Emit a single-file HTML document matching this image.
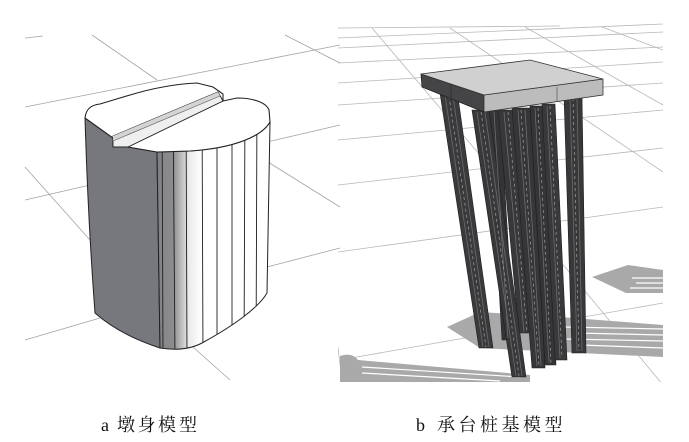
<!DOCTYPE html>
<html><head><meta charset="utf-8"><style>
html,body{margin:0;padding:0;background:#fff;}
body{width:689px;height:442px;overflow:hidden;}
svg{display:block;}
</style></head><body>
<svg width="689" height="442" viewBox="0 0 689 442" xmlns="http://www.w3.org/2000/svg">
<defs>
<linearGradient id="fg" gradientUnits="userSpaceOnUse" x1="157" y1="0" x2="270" y2="0">
<stop offset="0" stop-color="#7a7c81"/>
<stop offset="0.045" stop-color="#86878a"/>
<stop offset="0.144" stop-color="#8c8c8e"/>
<stop offset="0.28" stop-color="#eaeaea"/>
<stop offset="0.39" stop-color="#ffffff"/>
<stop offset="1" stop-color="#ffffff"/>
</linearGradient>
<clipPath id="ff"><path d="M157,152 L190,151 C235,148 262,136 270,122 L267,293 C259,307 235,325 202,343 Q185,352 160,348 Z"/></clipPath>
<clipPath id="rp"><rect x="338" y="20" width="325" height="362"/></clipPath>
</defs>

<!-- LEFT PANEL grid -->
<g stroke="#a3a3a3" stroke-width="0.8" fill="none">
<line x1="25" y1="38" x2="43" y2="36"/>
<line x1="92" y1="35" x2="157" y2="80"/>
<line x1="25" y1="107" x2="340" y2="45"/>
<line x1="285" y1="35" x2="340" y2="63"/>
<line x1="267" y1="142" x2="340" y2="125"/>
<line x1="268" y1="162" x2="340" y2="207"/>
<line x1="25" y1="200" x2="90" y2="185"/>
<line x1="25" y1="167" x2="90" y2="240"/>
<line x1="267" y1="267" x2="340" y2="248"/>
<line x1="25" y1="340" x2="100" y2="318"/>
<line x1="193" y1="347" x2="230" y2="380"/>
</g>

<!-- Pier -->
<path d="M85,118 L113,138 L113,147 L128,147 L157,152 L160,348 Q120,335 95,313 Q88,220 85,118 Z" fill="#76787d" stroke="#222" stroke-width="1"/>
<path d="M157,152 L190,151 C235,148 262,136 270,122 L267,293 C259,307 235,325 202,343 Q185,352 160,348 Z" fill="url(#fg)" stroke="#222" stroke-width="1"/>
<g clip-path="url(#ff)" stroke="#1e1e1e" stroke-width="0.9">
<line x1="162" y1="100" x2="163" y2="360"/>
<line x1="173" y1="100" x2="175" y2="360"/>
<line x1="186" y1="100" x2="187" y2="360"/>
<line x1="202" y1="100" x2="203" y2="360"/>
<line x1="217" y1="100" x2="217" y2="360"/>
<line x1="232" y1="100" x2="232" y2="360"/>
<line x1="245" y1="100" x2="244" y2="360"/>
<line x1="257" y1="100" x2="256" y2="360"/>
</g>
<path d="M85,118 C86,108 92,105 100,104 L130,95 C150,89 175,84 197,83 L213,87 L223,94 L223,101 L237,98 C252,98 266,102 269,110 L270,122 C262,136 235,148 190,151 L157,152 L128,147 L113,147 L113,138 Z" fill="#fff" stroke="#222" stroke-width="1.1"/>
<polygon points="113,136 218,92 223,101 128,147 113,147" fill="#efefef" stroke="#222" stroke-width="0.9"/>
<polygon points="113,136 218,92 220,96 113,141" fill="#d4d4d4"/>
<line x1="113" y1="141" x2="220" y2="96" stroke="#555" stroke-width="0.6"/>

<!-- RIGHT PANEL -->
<g clip-path="url(#rp)">
<g stroke="#b8b8b8" stroke-width="0.8" fill="none">
<line x1="338" y1="28" x2="560" y2="26"/>
<line x1="338" y1="38" x2="663" y2="24"/>
<line x1="338" y1="48" x2="663" y2="32"/>
<line x1="338" y1="63" x2="663" y2="47"/>
<line x1="338" y1="83" x2="663" y2="62"/>
<line x1="338" y1="105" x2="663" y2="83"/>
<line x1="338" y1="140" x2="663" y2="110"/>
<line x1="338" y1="185" x2="663" y2="148"/>
<line x1="338" y1="252" x2="663" y2="207"/>
<line x1="340" y1="360" x2="663" y2="303"/>
<line x1="372" y1="28" x2="480" y2="155"/>
<line x1="555" y1="255" x2="663" y2="385"/>
<line x1="450" y1="28" x2="663" y2="172"/>
<line x1="525" y1="27" x2="663" y2="105"/>
<line x1="602" y1="27" x2="663" y2="50"/>
<line x1="338" y1="347" x2="342" y2="382"/>
</g>
<!-- shadows -->
<g fill="#a9a9a9">
<path d="M592,277 L628,265 L663,270 L663,293 L626,293 Z"/>
<path d="M447,327 L480,312 L560,317 L663,325 L663,357 L560,352 L480,348 Z"/>
<path d="M340,356 Q352,352 358,360 L530,375 L530,382 L340,382 Z"/>
</g>
<g stroke="#fff" stroke-width="1.2">
<line x1="632" y1="278" x2="663" y2="278"/>
<line x1="636" y1="283" x2="663" y2="283"/>
<line x1="630" y1="288" x2="663" y2="288"/>
<line x1="565" y1="327" x2="663" y2="329"/>
<line x1="575" y1="333" x2="663" y2="335"/>
<line x1="565" y1="339" x2="663" y2="341"/>
<line x1="580" y1="345" x2="663" y2="348"/>
<line x1="362" y1="367" x2="520" y2="377"/>
<line x1="362" y1="373" x2="500" y2="381"/>
</g>
<!-- piles -->
<g stroke="#1f1f21" stroke-width="0.6">
<polygon points="489,110 500,110 514,340 502,340" fill="#343437"/>
<polygon points="498,110 514,110 531,333 519,333" fill="#38383b"/>
<polygon points="530,106 543,106 556,365 545,365" fill="#353538"/>
<polygon points="542,104 555,104 567,360 555,360" fill="#39393c"/>
<polygon points="512,108 530,108 545,368 532,368" fill="#363639"/>
<polygon points="472,110 489,110 526,377 512,377" fill="#38383b"/>
<polygon points="440,93 458,97 493,348 479,348" fill="#3a3a3d"/>
<polygon points="564,96 582,96 586,353 572,353" fill="#38383b"/>
</g>
<g stroke="#6c6c70" stroke-width="0.8" fill="none">
<line x1="445" y1="95" x2="483" y2="347"/>
<line x1="453" y1="96" x2="489" y2="347"/>
<line x1="477" y1="112" x2="516" y2="376"/>
<line x1="485" y1="112" x2="522" y2="376"/>
<line x1="494" y1="112" x2="508" y2="338"/>
<line x1="504" y1="112" x2="524" y2="332"/>
<line x1="518" y1="110" x2="537" y2="366"/>
<line x1="525" y1="110" x2="541" y2="366"/>
<line x1="535" y1="108" x2="549" y2="363"/>
<line x1="547" y1="106" x2="560" y2="358"/>
<line x1="570" y1="98" x2="577" y2="351"/>
<line x1="577" y1="98" x2="582" y2="351"/>
</g>
<g stroke="#b0b0b0" stroke-width="0.6" stroke-dasharray="3 3" fill="none">
<line x1="449" y1="96" x2="486" y2="347"/>
<line x1="481" y1="112" x2="519" y2="376"/>
<line x1="508" y1="112" x2="527" y2="332"/>
<line x1="521" y1="110" x2="539" y2="366"/>
<line x1="538" y1="108" x2="551" y2="363"/>
<line x1="550" y1="106" x2="562" y2="358"/>
<line x1="573" y1="98" x2="579" y2="351"/>
</g>
<!-- pile cap -->
<polygon points="421,74 484,95 484,112 422,87" fill="#454547" stroke="#222" stroke-width="0.8"/>
<line x1="451" y1="84" x2="451" y2="100" stroke="#2a2a2a" stroke-width="0.7"/>
<polygon points="484,95 603,79 603,95 484,112" fill="#bcbcbc" stroke="#333" stroke-width="0.8"/>
<line x1="557" y1="87" x2="557" y2="101" stroke="#555" stroke-width="0.7"/>
<polygon points="421,74 530,60 603,79 484,95" fill="#d0d0d0" stroke="#333" stroke-width="0.8"/>
</g>

<!-- captions -->
<g font-family="'Liberation Serif','Noto Serif CJK SC',serif" font-size="18" fill="#111">
<text x="101" y="431">a</text>
<text x="117 137.5 158 179" y="431">墩身模型</text>
<text x="416" y="431">b</text>
<text x="437 458.5 480 501.5 523 544.5" y="431">承台桩基模型</text>
</g>
</svg>
</body></html>
